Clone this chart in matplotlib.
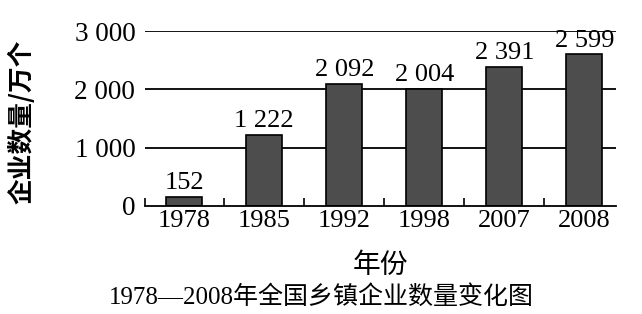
import numpy as np
import matplotlib.pyplot as plt

plt.rcParams['font.family'] = ['Liberation Serif', 'Noto Sans CJK SC']

# data
years = ['1978', '1985', '1992', '1998', '2007', '2008']
counts = [152, 1222, 2092, 2004, 2391, 2599]
value_labels = ['152', '1 222', '2 092', '2 004', '2 391', '2 599']
yticks = [0, 1000, 2000, 3000]
ytick_labels = ['0', '1 000', '2 000', '3 000']

fig = plt.figure(figsize=(6.42, 3.14), dpi=100)
ax = fig.add_axes([0.226, 0.344, 0.734, 0.557])

x = np.arange(len(years))

# gridlines behind bars
for v in yticks[1:]:
    ax.axhline(v, color='black', lw=1.3, zorder=0)

ax.bar(x, counts, width=0.45, color='#4d4d4d', edgecolor='black', lw=1.2, zorder=2)

for xi, c, lab in zip(x, counts, value_labels):
    ax.annotate(lab, (xi, c), xytext=(0, 2), textcoords='offset points',
                ha='center', va='bottom', fontsize=19)

ax.set_xlim(-0.49, 5.4)
ax.set_ylim(0, 3000)

for s in ['top', 'right', 'left']:
    ax.spines[s].set_visible(False)
ax.spines['bottom'].set_linewidth(1.3)

# small ticks between categories on x axis
ax.set_xticks([-0.49] + (x[:-1] + 0.5).tolist(), minor=True)
ax.tick_params(axis='x', which='minor', direction='in', length=6, width=1.2)
ax.set_xticks(x)
ax.set_xticklabels(years, fontsize=19)
ax.tick_params(axis='x', which='major', length=0, pad=3)

ax.set_yticks(yticks)
ax.set_yticklabels(ytick_labels, fontsize=19.5)
ax.tick_params(axis='y', length=0, pad=7)

ax.set_ylabel('企业数量/万个', family=['Noto Sans CJK SC'], fontsize=18.5, weight='bold')
ax.yaxis.set_label_coords(-0.232, 0.48)
ax.set_xlabel('年份', family=['Noto Sans CJK SC'], fontsize=20, weight='medium')
ax.xaxis.set_label_coords(0.5, -0.25)

fig.text(0.5, 0.054, '1978—2008年全国乡镇企业数量变化图', ha='center', va='center',
         fontsize=18, family=['Liberation Serif', 'Noto Sans CJK SC'], weight='medium')

fig.savefig('out.png', dpi=100)
